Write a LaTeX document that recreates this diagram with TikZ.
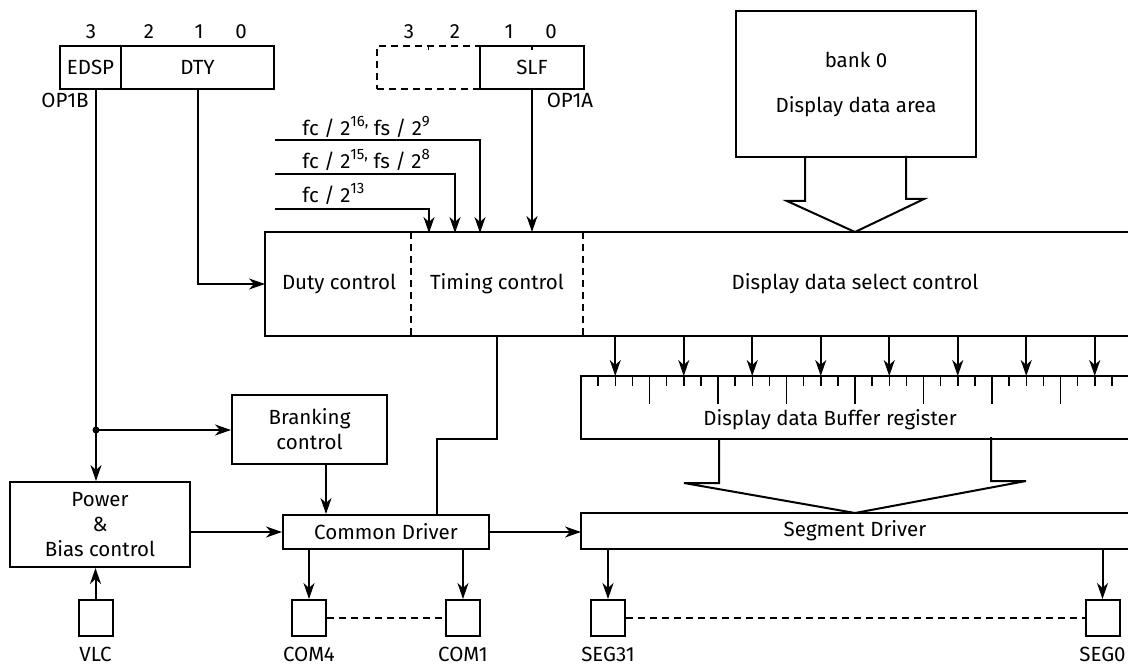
\documentclass[tikz,border=0pt]{standalone}
\usepackage{fontspec}
\setmainfont{Fira Sans}
\usetikzlibrary{arrows.meta,positioning}
\newcommand{\sx}[1]{\raisebox{0.42em}{\fontsize{15}{15}\selectfont #1}}
\begin{document}
\begin{tikzpicture}[x=1pt,y=-1pt,line width=2pt,
  every node/.style={font=\fontsize{20.5}{25}\selectfont},
  box/.style={draw,rectangle,inner sep=0pt},
  txt/.style={rectangle,inner sep=0pt},
  pad/.style={draw,rectangle,minimum width=34pt,minimum height=36pt,inner sep=0pt},
  arr/.style={-{Stealth[length=16pt,width=11pt,inset=5pt]}},
  dsh/.style={dash pattern=on 7pt off 5pt}]
\useasboundingbox (0,0) rectangle (1128,666);
% registers
\node[box,minimum width=61pt,minimum height=43pt] (edsp) at (90.5,67.5) {EDSP};
\node[box,minimum width=153pt,minimum height=43pt] (dty) at (197.5,67.5) {DTY};
\node[box,dsh,minimum width=103pt,minimum height=43pt] (hi) at (428.5,67.5) {};
\node[box,minimum width=104pt,minimum height=43pt] (slf) at (532,67.5) {SLF};
\draw[line width=1.5pt] (hi.north) -- ++(0,5);
\draw[line width=1.5pt] (slf.north) -- ++(0,5);
\foreach \x/\b in {91/3,149/2,199/1,241/0,409/3,455/2,509/1,551/0} % edit here for the bit numbers
\node (bit\x) at (\x,32) {\b};
\node (op1b) at (65,100) {OP1B};
\node (op1a) at (570,100) {OP1A};
% control block
\node[txt,minimum width=146pt,minimum height=102pt] (duty) at (339,284) {Duty control};
\node[txt,minimum width=170pt,minimum height=102pt] (timing) at (497,284) {Timing control};
\node[txt,minimum width=546pt,minimum height=102pt] (select) at (855,284) {Display data select control};
\draw (select.north east) -| (duty.south west) -- (select.south east);
\draw[dsh,line width=1.5pt] (timing.north west) -- (timing.south west);
\draw[dsh,line width=1.5pt] (timing.north east) -- (timing.south east);
% clock inputs
\node[anchor=west] (clk16) at (298,127) {fc~/ 2\sx{16,} fs / 2\sx{9}};
\node[anchor=west] (clk15) at (298,160) {fc~/ 2\sx{15,} fs / 2\sx{8}};
\node[anchor=west] (clk13) at (298,194) {fc~/ 2\sx{13}};
\coordinate (c16) at (275,140);
\coordinate (c15) at (275,174);
\coordinate (c13) at (275,209);
\coordinate (t16) at (480,233);
\coordinate (t15) at (455,233);
\coordinate (t13) at (429,233);
\draw[arr] (c16) -| (t16);
\draw[arr] (c15) -| (t15);
\draw[arr] (c13) -| (t13);
\draw[arr] (slf.south) -- (slf.south |- timing.north);
\draw[arr] (dty.south) |- (duty.west);
% display data area
\node[box,minimum width=240pt,minimum height=146pt,align=center] (bank) at (856,84) {bank 0\\[20pt]Display data area};
\draw ([xshift=-51pt]bank.south) -- ++(0,43) -- ++(-18,0) -- (select.north) -- ++(69,-33) -- ++(-18,0) -- ++(0,-43);
% buffer register
\node[txt,minimum width=546pt,minimum height=61pt] (buf) at (855,407.5) {};
\draw (buf.north east) -| (buf.south west) -- (buf.south east);
\node (buftxt) at ([xshift=-25pt,yshift=-12pt]buf.center) {Display data Buffer register};
\foreach \j in {1,...,31} % edit here for the short ticks
\draw[line width=1.5pt] (buf.north west) ++(17.125*\j,0) -- ++(0,10);
\foreach \j in {4,8,...,28} % edit here for the long ticks
\draw[line width=1.5pt] (buf.north west) ++(17.125*\j,0) -- ++(0,28);
\foreach \k in {0,...,7} {
\path (select.south west) ++(34.25+68.5*\k,0) coordinate (a\k);
\draw[arr] (a\k) -- (a\k |- buf.north);
}
% drivers
\node[txt,minimum width=546pt,minimum height=34pt] (seg) at (855,531) {Segment Driver};
\draw (seg.north east) -| (seg.south west) -- (seg.south east);
\draw ([xshift=-136pt]buf.south) -- ++(0,44) -- ++(-35,0) -- (seg.north) -- ++(171,-32) -- ++(-35,0) -- ++(0,-44);
\node[box,minimum width=206pt,minimum height=34pt] (cmn) at (386,532) {Common Driver};
\node[box,minimum width=180pt,minimum height=85pt,align=center] (pwr) at (100,524.5) {Power\\\&\\Bias control};
\node[box,minimum width=155pt,minimum height=69pt,align=center] (brk) at (309.5,429.5) {Branking\\control};
% pads
\node[pad] (vlc) at (95.5,618) {};
\node[pad] (com4) at (309,618) {};
\node[pad] (com1) at (463,618) {};
\node[pad] (seg31) at (608,618) {};
\node[pad] (seg0) at (1102.5,618) {};
\foreach \p/\t in {vlc/VLC,com4/COM4,com1/COM1,seg31/SEG31,seg0/SEG0}
\node[below=6pt of \p] (\p lbl) {\t};
\draw[dsh] (com4.east) -- (com1.west);
\draw[dsh] (seg31.east) -- (seg0.west);
% connectors
\coordinate (jn) at (96,430);
\draw (edsp.south -| jn) -- (jn);
\fill (jn) circle (3.5pt);
\draw[arr] (jn) -- (brk.west |- jn);
\draw[arr] (jn) -- (pwr.north -| jn);
\draw[arr] (vlc.north) -- (pwr.south -| vlc);
\draw[arr] (pwr.east |- cmn) -- (cmn.west);
\draw[arr] (cmn.east) -- (seg.west |- cmn);
\coordinate (xb) at (326,0);
\draw[arr] (brk.south -| xb) -- (cmn.north -| xb);
\coordinate (bend) at (437,439);
\draw (timing.south) |- (bend) -- (bend |- cmn.north);
\draw[arr] (cmn.south -| com4) -- (com4.north);
\draw[arr] (cmn.south -| com1) -- (com1.north);
\draw[arr] (seg.south -| seg31) -- (seg31.north);
\draw[arr] (seg.south -| seg0) -- (seg0.north);
\end{tikzpicture}
\end{document}
